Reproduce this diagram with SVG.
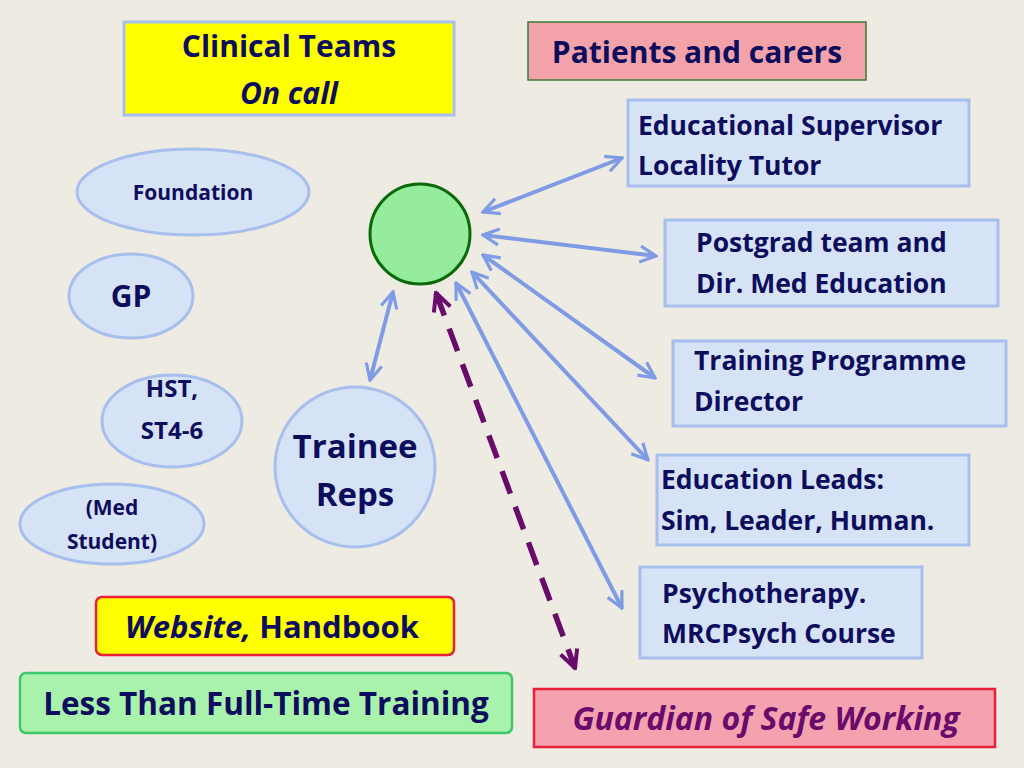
<svg xmlns="http://www.w3.org/2000/svg" width="1024" height="768" viewBox="0 0 1024 768">
<style>
text{font-family:"Open Sans",Lato,"Liberation Sans",sans-serif;font-weight:bold;fill:#0d0d5e}
.b{fill:#d6e2f6;stroke:#a8bfee;stroke-width:3}
.e{fill:#d6e2f6;stroke:#a8bfee;stroke-width:3}
.c{stroke:#7f9be6;stroke-width:4;fill:none;marker-start:url(#a);marker-end:url(#a)}
</style>
<defs>
<marker id="a" viewBox="0 0 10 10" refX="9" refY="5" markerWidth="5" markerHeight="5" orient="auto-start-reverse" markerUnits="strokeWidth">
<path d="M1,1 L9,5 L1,9" fill="none" stroke="#7f9be6" stroke-width="1.6"/>
</marker>
<marker id="p" viewBox="0 0 10 10" refX="9" refY="5" markerWidth="4" markerHeight="4" orient="auto-start-reverse" markerUnits="strokeWidth">
<path d="M1,1 L9,5 L1,9" fill="none" stroke="#6a0a6a" stroke-width="1.8"/>
</marker>
</defs>
<rect width="1024" height="768" fill="#eeebe2"/>
<g id="connectors">
<line class="c" x1="483" y1="212" x2="622" y2="158"/>
<line class="c" x1="483" y1="235" x2="656" y2="256"/>
<line class="c" x1="483" y1="255" x2="655" y2="378"/>
<line class="c" x1="472" y1="272" x2="648" y2="460"/>
<line class="c" x1="456" y1="283" x2="622" y2="608"/>
<line class="c" x1="393" y1="292" x2="370" y2="380"/>
<line x1="436" y1="293" x2="575" y2="668" stroke="#6a0a6a" stroke-width="5.5" stroke-dasharray="24,14" marker-start="url(#p)" marker-end="url(#p)"/>
</g>
<g id="center"><circle cx="420" cy="234" r="50" fill="#94ec9c" stroke="#0a6a0a" stroke-width="3"/></g>
<g id="clinical"><rect x="124" y="22" width="330" height="93" fill="#ffff00" stroke="#a8bfee" stroke-width="3"/>
<text x="289" y="57" font-size="30" text-anchor="middle">Clinical Teams</text>
<text x="289" y="104" font-size="30" text-anchor="middle" font-style="italic">On call</text></g>
<g id="patients"><rect x="528" y="22" width="338" height="58" fill="#f4a2aa" stroke="#3a7a3a" stroke-width="1.5"/>
<text x="697" y="63" font-size="30" text-anchor="middle">Patients and carers</text></g>
<g id="es"><rect class="b" x="628" y="100" width="341" height="86"/>
<text x="638" y="135" font-size="26.5">Educational Supervisor</text><text x="638" y="175" font-size="26.5">Locality Tutor</text></g>
<g id="pg"><rect class="b" x="665" y="220" width="333" height="86"/>
<text x="696" y="252" font-size="26.5">Postgrad team and</text><text x="696" y="293" font-size="26.5">Dir. Med Education</text></g>
<g id="tpd"><rect class="b" x="673" y="341" width="333" height="85"/>
<text x="694" y="370" font-size="26.5">Training Programme</text><text x="694" y="411" font-size="26.5">Director</text></g>
<g id="el"><rect class="b" x="657" y="455" width="312" height="90"/>
<text x="661" y="489" font-size="26.5">Education Leads:</text><text x="661" y="530" font-size="26.5">Sim, Leader, Human.</text></g>
<g id="psy"><rect class="b" x="640" y="567" width="282" height="91"/>
<text x="662" y="603" font-size="26.5">Psychotherapy.</text><text x="662" y="643" font-size="26.5">MRCPsych Course</text></g>
<g id="foundation"><ellipse class="e" cx="193" cy="192" rx="116" ry="43"/><text x="193" y="200" font-size="21" text-anchor="middle">Foundation</text></g>
<g id="gp"><ellipse class="e" cx="131" cy="296" rx="62" ry="42"/><text x="131" y="307" font-size="30" text-anchor="middle">GP</text></g>
<g id="hst"><ellipse class="e" cx="172" cy="421" rx="70" ry="46"/><text x="172" y="397" font-size="24" text-anchor="middle">HST,</text><text x="172" y="439" font-size="24" text-anchor="middle">ST4-6</text></g>
<g id="med"><ellipse class="e" cx="112" cy="524" rx="92" ry="40"/><text x="112" y="515" font-size="21" text-anchor="middle">(Med</text><text x="112" y="549" font-size="21" text-anchor="middle">Student)</text></g>
<g id="reps"><circle class="e" cx="355" cy="467" r="80"/><text x="355" y="458" font-size="33" text-anchor="middle">Trainee</text><text x="355" y="506" font-size="33" text-anchor="middle">Reps</text></g>
<g id="web"><rect x="96" y="597" width="358" height="58" rx="6" fill="#ffff00" stroke="#e8203a" stroke-width="2.5"/>
<text x="272" y="638" font-size="31" text-anchor="middle"><tspan font-style="italic">Website,</tspan> Handbook</text></g>
<g id="ltft"><rect x="20" y="673" width="492" height="60" rx="6" fill="#a9f2ac" stroke="#3cc86a" stroke-width="2.5"/>
<text x="266" y="715" font-size="31.5" text-anchor="middle">Less Than Full-Time Training</text></g>
<g id="guardian"><rect x="534" y="689" width="461" height="58" fill="#f4a2b0" stroke="#e8203a" stroke-width="2.5"/>
<text x="766" y="730" font-size="32" text-anchor="middle" font-style="italic" style="fill:#6a0a6a">Guardian of Safe Working</text></g>
</svg>
